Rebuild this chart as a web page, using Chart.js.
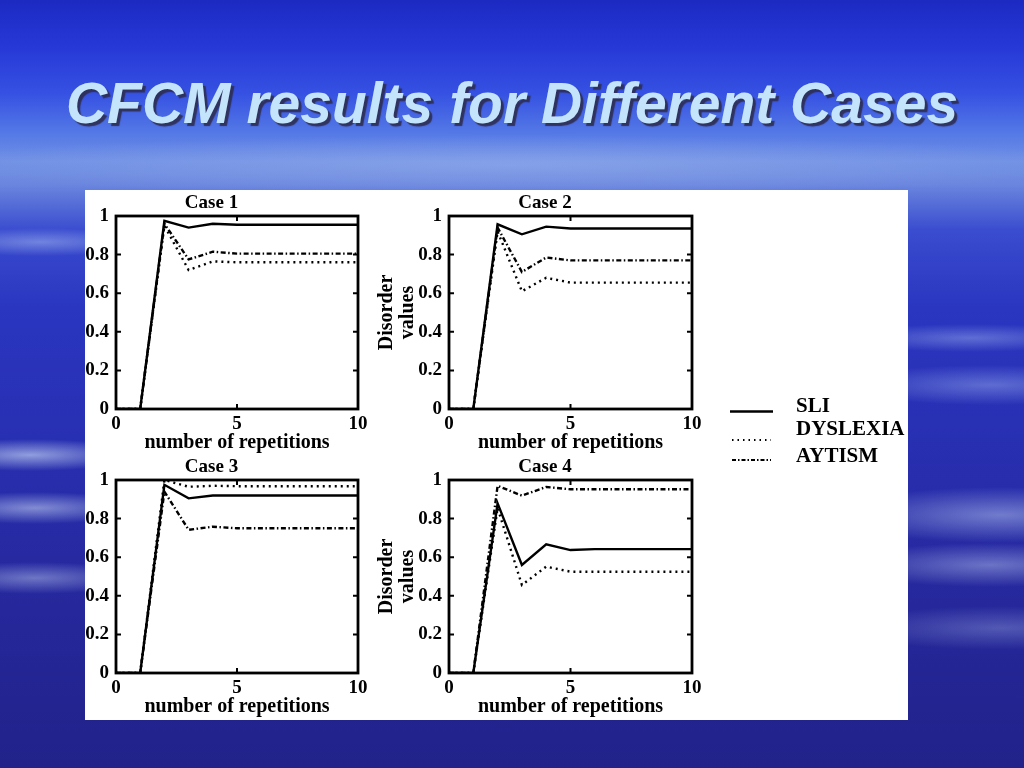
<!DOCTYPE html>
<html>
<head>
<meta charset="utf-8">
<script src="https://cdn.jsdelivr.net/npm/chart.js@4"></script>
<style>
html,body{margin:0;padding:0;width:1024px;height:768px;overflow:hidden;}
body{position:relative;
background:
 radial-gradient(ellipse 130px 14px at 970px 338px, rgba(160,180,240,0.45), rgba(160,180,240,0) 100%),
 radial-gradient(ellipse 150px 20px at 990px 385px, rgba(160,180,240,0.45), rgba(160,180,240,0) 100%),
 radial-gradient(ellipse 170px 28px at 1000px 515px, rgba(175,190,235,0.55), rgba(175,190,235,0) 100%),
 radial-gradient(ellipse 150px 22px at 990px 565px, rgba(175,190,235,0.5), rgba(175,190,235,0) 100%),
 radial-gradient(ellipse 160px 22px at 1000px 628px, rgba(150,165,220,0.4), rgba(150,165,220,0) 100%),
 radial-gradient(ellipse 110px 16px at 30px 455px, rgba(190,205,240,0.7), rgba(190,205,240,0) 100%),
 radial-gradient(ellipse 110px 16px at 35px 508px, rgba(190,205,240,0.6), rgba(190,205,240,0) 100%),
 radial-gradient(ellipse 110px 16px at 35px 578px, rgba(180,195,235,0.5), rgba(180,195,235,0) 100%),
 radial-gradient(ellipse 110px 14px at 40px 242px, rgba(170,190,240,0.5), rgba(170,190,240,0) 100%),
 radial-gradient(ellipse 600px 30px at 512px 165px, rgba(150,175,235,0.55), rgba(150,175,235,0) 100%),
 linear-gradient(to bottom, #1c2ac2 0%, #2638d6 6%, #3550e2 12%, #5276e6 17%, #7090e4 21%, #6a86de 24%, #3a4ccf 30%, #2a36c0 40%, #2830b4 55%, #26289e 75%, #22228a 100%);
}
#title{position:absolute;left:0;top:75px;width:1024px;text-align:center;
 font:italic bold 57px/57px "Liberation Sans",Arial,sans-serif;color:#c4e4fc;
 text-shadow:3px 3px 1px rgba(45,45,80,0.9);white-space:nowrap;}
#panel{position:absolute;left:85px;top:190px;width:823px;height:530px;background:#fff;}
canvas.cv{position:absolute;}
#legend{position:absolute;left:0;top:0;}
</style>
</head>
<body>
<div id="title">CFCM results for Different Cases</div>
<div id="panel"></div>
<canvas id="c1" class="cv"></canvas>
<canvas id="c2" class="cv"></canvas>
<canvas id="c3" class="cv"></canvas>
<canvas id="c4" class="cv"></canvas>
<svg id="legend" width="1024" height="768"></svg>
<script>
// ---------- data ----------
const xValues = [0, 1, 2, 3, 4, 5, 6, 7, 8, 9, 10];
const xTicks = [0, 5, 10];
const xTickLabels = ['0', '5', '10'];
const yTicks = [0, 0.2, 0.4, 0.6, 0.8, 1];
const yTickLabels = ['0', '0.2', '0.4', '0.6', '0.8', '1'];
const caseTitles = ['Case 1', 'Case 2', 'Case 3', 'Case 4'];
const seriesNames = ['SLI', 'DYSLEXIA', 'AYTISM'];
const xAxisLabel = 'number of repetitions';
const yAxisLabel = ['Disorder', 'values'];

const case1SLI = [0, 0, 0.975, 0.94, 0.96, 0.955, 0.955, 0.955, 0.955, 0.955, 0.955];
const case1DYS = [0, 0, 0.95, 0.72, 0.765, 0.76, 0.76, 0.76, 0.76, 0.76, 0.76];
const case1AYT = [0, 0, 0.96, 0.775, 0.815, 0.805, 0.805, 0.805, 0.805, 0.805, 0.805];

const case2SLI = [0, 0, 0.957, 0.905, 0.945, 0.935, 0.935, 0.935, 0.935, 0.935, 0.935];
const case2DYS = [0, 0, 0.92, 0.61, 0.68, 0.655, 0.655, 0.655, 0.655, 0.655, 0.655];
const case2AYT = [0, 0, 0.94, 0.71, 0.785, 0.77, 0.77, 0.77, 0.77, 0.77, 0.77];

const case3SLI = [0, 0, 0.975, 0.905, 0.92, 0.92, 0.92, 0.92, 0.92, 0.92, 0.92];
const case3DYS = [0, 0, 1.0, 0.965, 0.97, 0.968, 0.968, 0.968, 0.968, 0.968, 0.968];
const case3AYT = [0, 0, 0.94, 0.742, 0.758, 0.75, 0.75, 0.75, 0.75, 0.75, 0.75];

const case4SLI = [0, 0, 0.879, 0.56, 0.667, 0.637, 0.642, 0.642, 0.642, 0.642, 0.642];
const case4DYS = [0, 0, 0.855, 0.456, 0.551, 0.525, 0.525, 0.525, 0.525, 0.525, 0.525];
const case4AYT = [0, 0, 0.97, 0.919, 0.964, 0.952, 0.952, 0.952, 0.952, 0.952, 0.952];

const caseSeries = [
  [case1SLI, case1DYS, case1AYT],
  [case2SLI, case2DYS, case2AYT],
  [case3SLI, case3DYS, case3AYT],
  [case4SLI, case4DYS, case4AYT]
];

// ---------- styling / layout ----------
const lineDashes = [[], [2, 4], [5, 2.5, 1.5, 2.5]];
const serif = '"Liberation Serif", "Times New Roman", serif';
const boxes = [
  {id: 'c1', left: 60,  top: 190, width: 315, height: 265, padLeft: 5,  padRight: 17, yWidth: 51, yTitle: false},
  {id: 'c2', left: 370, top: 190, width: 350, height: 265, padLeft: 28, padRight: 28, yWidth: 51, yTitle: true},
  {id: 'c3', left: 60,  top: 454, width: 315, height: 265, padLeft: 5,  padRight: 17, yWidth: 51, yTitle: false},
  {id: 'c4', left: 370, top: 454, width: 350, height: 265, padLeft: 28, padRight: 28, yWidth: 51, yTitle: true}
];

const framePlugin = {
  id: 'frame',
  afterDatasetsDraw(chart) {
    const {ctx, chartArea: a, scales: {x, y}} = chart;
    ctx.save();
    ctx.strokeStyle = '#000';
    ctx.lineWidth = 2.8;
    ctx.strokeRect(a.left, a.top, a.right - a.left, a.bottom - a.top);
    ctx.lineWidth = 2;
    ctx.beginPath();
    const tl = 5;
    y.ticks.forEach(t => {
      if (t.value > y.min && t.value < y.max) {
        const py = y.getPixelForValue(t.value);
        ctx.moveTo(a.left, py); ctx.lineTo(a.left + tl, py);
        ctx.moveTo(a.right, py); ctx.lineTo(a.right - tl, py);
      }
    });
    x.ticks.forEach(t => {
      if (t.value > x.min && t.value < x.max) {
        const px = x.getPixelForValue(t.value);
        ctx.moveTo(px, a.bottom); ctx.lineTo(px, a.bottom - tl);
        ctx.moveTo(px, a.top); ctx.lineTo(px, a.top + tl);
      }
    });
    ctx.stroke();
    ctx.restore();
  }
};

boxes.forEach((b, k) => {
  const cv = document.getElementById(b.id);
  cv.width = b.width; cv.height = b.height;
  cv.style.left = b.left + 'px'; cv.style.top = b.top + 'px';
  cv.style.width = b.width + 'px'; cv.style.height = b.height + 'px';
  const datasets = caseSeries[k].map((vals, s) => ({
    label: seriesNames[s],
    data: xValues.map((xv, i) => ({x: xv, y: vals[i]})),
    borderColor: '#000',
    borderWidth: 2.4,
    borderDash: lineDashes[s],
    pointRadius: 0,
    tension: 0,
    fill: false
  }));
  new Chart(cv, {
    type: 'line',
    data: {datasets},
    options: {
      responsive: false,
      animation: false,
      devicePixelRatio: 1,
      layout: {padding: {left: b.padLeft, right: b.padRight, top: 0, bottom: 0}},
      plugins: {
        legend: {display: false},
        tooltip: {enabled: false},
        title: {
          display: true, text: caseTitles[k], color: '#000',
          font: {family: serif, weight: 'bold', size: 19, lineHeight: 1.2},
          padding: {top: 2, bottom: 1.2}
        }
      },
      scales: {
        x: {
          type: 'linear', min: 0, max: 10,
          grid: {display: false, drawTicks: false},
          border: {display: false},
          afterBuildTicks: s => { s.ticks = xTicks.map(v => ({value: v})); },
          afterFit: s => { s.height = 46; },
          ticks: {
            color: '#000', padding: 4, autoSkip: false, maxRotation: 0,
            font: {family: serif, weight: 'bold', size: 19},
            callback: (v, i) => xTickLabels[i]
          },
          title: {
            display: true, text: xAxisLabel, color: '#000',
            font: {family: serif, weight: 'bold', size: 20, lineHeight: 1.2},
            padding: {top: 0, bottom: 0}
          }
        },
        y: {
          type: 'linear', min: 0, max: 1,
          grid: {display: false, drawTicks: false},
          border: {display: false},
          afterBuildTicks: s => { s.ticks = yTicks.map(v => ({value: v})); },
          afterFit: s => { s.width = b.yWidth; },
          ticks: {
            color: '#000', padding: 7, autoSkip: false,
            font: {family: serif, weight: 'bold', size: 19},
            callback: (v, i) => yTickLabels[i]
          },
          title: {
            display: b.yTitle, text: yAxisLabel, color: '#000',
            font: {family: serif, weight: 'bold', size: 20, lineHeight: '21px'},
            padding: {top: -21.5, bottom: 0}
          }
        }
      }
    },
    plugins: [framePlugin]
  });
});

// ---------- legend ----------
const NS = 'http://www.w3.org/2000/svg';
const svg = document.getElementById('legend');
const legendRows = [
  {lineY: 411.5, textY: 412, x1: 730, x2: 773, dash: 'none', w: 2.5},
  {lineY: 440, textY: 435, x1: 732, x2: 771, dash: '1.5 4', w: 2},
  {lineY: 460, textY: 462, x1: 732, x2: 771, dash: '4 2 1.5 2', w: 2}
];
legendRows.forEach((r, i) => {
  const ln = document.createElementNS(NS, 'line');
  ln.setAttribute('x1', r.x1); ln.setAttribute('x2', r.x2);
  ln.setAttribute('y1', r.lineY); ln.setAttribute('y2', r.lineY);
  ln.setAttribute('stroke', '#000'); ln.setAttribute('stroke-width', r.w);
  if (r.dash !== 'none') ln.setAttribute('stroke-dasharray', r.dash);
  svg.appendChild(ln);
  const tx = document.createElementNS(NS, 'text');
  tx.setAttribute('x', 796); tx.setAttribute('y', r.textY);
  tx.setAttribute('font-family', 'Liberation Serif');
  tx.setAttribute('font-weight', 'bold');
  tx.setAttribute('font-size', '21');
  tx.setAttribute('fill', '#000');
  tx.textContent = seriesNames[i];
  svg.appendChild(tx);
});
</script>
</body>
</html>
